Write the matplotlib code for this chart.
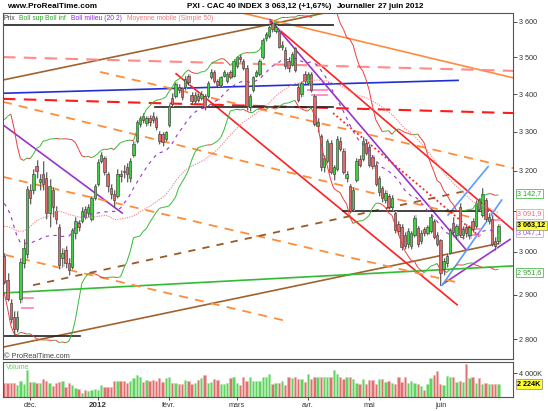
import numpy as np
import pandas as pd
import matplotlib
matplotlib.use("Agg")
import matplotlib.pyplot as plt
from matplotlib.collections import LineCollection
from matplotlib.ticker import NullLocator
from matplotlib.transforms import blended_transform_factory

plt.rcParams['font.family'] = ['Liberation Sans', 'DejaVu Sans']

W, H = 548, 411

# ── données : CAC 40 journalier, 21 nov 2011 -> 27 juin 2012 ──────────
# clôtures avant la fenêtre visible (pour Bollinger 20 et MM50)
pre_close = [3095, 2976, 2860, 2915, 2962, 3041, 3073, 2964, 3001, 2955,
             2796, 2810, 2860, 3010, 2970, 2985, 2982, 2880, 2850, 2935,
             3075, 3095, 3155, 3125, 3195, 3150, 3175, 3110, 3125, 3120,
             3060, 3165, 3175, 3140, 3180, 3370, 3350, 3243, 3075, 3115,
             3140, 3125, 3110, 3150, 3035, 3075, 3135, 3100, 3070, 3030,
             2985, 2995]

opens = [2990, 2935, 2880, 2850, 2822, 2890, 2975, 2995, 3152, 3150,
         3212, 3170, 3190, 3180, 3095, 3150, 3100, 3060, 2985, 3005,
         2975, 2965, 3045, 3070, 3075, 3105, 3095, 3080, 3130, 3165,
         3225, 3232, 3190, 3155, 3140, 3135, 3192, 3200, 3210, 3180,
         3240, 3275, 3320, 3340, 3322, 3335, 3340, 3335, 3295, 3295,
         3280, 3318, 3390, 3395, 3420, 3415, 3418, 3448, 3398, 3382,
         3395, 3390, 3395, 3395, 3445, 3460, 3435, 3425, 3450, 3435,
         3460, 3450, 3475, 3500, 3490, 3470, 3365, 3410, 3450, 3455,
         3500, 3555, 3560, 3597, 3575, 3575, 3530, 3520, 3490, 3480,
         3525, 3420, 3400, 3455, 3430, 3455, 3395, 3315, 3290, 3210,
         3225, 3270, 3190, 3205, 3275, 3250, 3180, 3160, 3105, 3175,
         3230, 3230, 3270, 3260, 3235, 3215, 3145, 3155, 3125, 3135,
         3108, 3095, 3068, 3060, 3040, 3018, 3015, 3040, 3058, 3025,
         3055, 3045, 3050, 3075, 3040, 3028, 2960, 2975, 2998, 3070,
         3040, 3110, 3040, 3060, 3040, 3075, 3062, 3125, 3090, 3125,
         3075, 3080, 3025, 3025]

highs = [2998, 2950, 2890, 2862, 2862, 2985, 3030, 3160, 3165, 3205,
         3228, 3190, 3225, 3195, 3178, 3158, 3112, 3066, 3010, 3015,
         2985, 3058, 3085, 3078, 3110, 3112, 3115, 3135, 3165, 3230,
         3248, 3238, 3196, 3165, 3152, 3205, 3202, 3215, 3218, 3232,
         3275, 3330, 3342, 3348, 3340, 3345, 3352, 3342, 3302, 3300,
         3302, 3372, 3402, 3432, 3428, 3420, 3448, 3455, 3405, 3405,
         3402, 3408, 3400, 3435, 3468, 3465, 3442, 3450, 3465, 3460,
         3466, 3495, 3505, 3510, 3495, 3478, 3400, 3450, 3466, 3495,
         3555, 3572, 3590, 3600, 3592, 3580, 3545, 3528, 3500, 3515,
         3530, 3430, 3435, 3462, 3460, 3460, 3400, 3335, 3295, 3240,
         3282, 3278, 3215, 3290, 3285, 3258, 3198, 3165, 3158, 3232,
         3240, 3285, 3280, 3268, 3240, 3222, 3185, 3160, 3150, 3140,
         3138, 3100, 3075, 3068, 3048, 3058, 3050, 3090, 3062, 3052,
         3060, 3065, 3092, 3080, 3048, 3032, 2985, 2998, 3058, 3085,
         3068, 3118, 3062, 3068, 3065, 3082, 3125, 3132, 3155, 3130,
         3095, 3088, 3035, 3068]

lows = [2925, 2885, 2835, 2808, 2815, 2880, 2962, 2985, 3115, 3140,
        3180, 3150, 3150, 3080, 3060, 3085, 3068, 2960, 2965, 2962,
        2945, 2960, 3030, 3050, 3070, 3080, 3085, 3075, 3125, 3160,
        3218, 3188, 3145, 3128, 3108, 3130, 3172, 3180, 3172, 3170,
        3235, 3270, 3312, 3322, 3315, 3315, 3322, 3305, 3268, 3262,
        3275, 3312, 3365, 3390, 3402, 3385, 3410, 3425, 3372, 3375,
        3378, 3385, 3358, 3390, 3440, 3430, 3418, 3420, 3445, 3430,
        3440, 3445, 3470, 3488, 3465, 3358, 3355, 3405, 3445, 3450,
        3495, 3545, 3555, 3570, 3568, 3525, 3522, 3468, 3460, 3475,
        3460, 3378, 3392, 3428, 3425, 3405, 3315, 3300, 3200, 3195,
        3220, 3190, 3175, 3200, 3250, 3190, 3170, 3095, 3098, 3170,
        3210, 3225, 3240, 3210, 3205, 3160, 3135, 3122, 3118, 3105,
        3100, 3045, 3040, 3005, 3008, 3010, 3008, 3035, 3012, 3018,
        3038, 3040, 3045, 3030, 3015, 2922, 2945, 2965, 2995, 3040,
        3030, 3035, 3030, 3035, 3030, 3048, 3058, 3100, 3085, 3075,
        3068, 3015, 3005, 3018]

closes = [2930, 2890, 2845, 2822, 2850, 2976, 3010, 3154, 3130, 3190,
          3200, 3178, 3165, 3095, 3160, 3110, 3080, 2970, 2998, 2975,
          2958, 3052, 3075, 3060, 3100, 3085, 3110, 3130, 3160, 3222,
          3240, 3195, 3160, 3140, 3125, 3190, 3185, 3195, 3190, 3225,
          3268, 3325, 3335, 3330, 3335, 3325, 3330, 3312, 3275, 3272,
          3298, 3368, 3372, 3428, 3410, 3392, 3440, 3432, 3380, 3398,
          3385, 3400, 3365, 3430, 3460, 3435, 3425, 3445, 3460, 3455,
          3445, 3490, 3500, 3495, 3470, 3368, 3395, 3445, 3460, 3490,
          3550, 3565, 3585, 3580, 3585, 3530, 3535, 3475, 3470, 3510,
          3465, 3385, 3430, 3435, 3455, 3410, 3320, 3325, 3210, 3232,
          3275, 3195, 3210, 3280, 3255, 3195, 3190, 3100, 3150, 3225,
          3215, 3275, 3245, 3215, 3212, 3165, 3180, 3130, 3143, 3110,
          3130, 3052, 3050, 3012, 3015, 3050, 3045, 3082, 3020, 3045,
          3045, 3060, 3085, 3035, 3020, 2950, 2978, 2990, 3052, 3048,
          3062, 3040, 3055, 3045, 3060, 3055, 3118, 3105, 3140, 3080,
          3085, 3020, 3013, 3063.12]

# volumes en milliers de titres
volumes = [2330, 2330, 2440, 2330, 2050, 2770, 2220, 4550, 2600, 2600,
           2330, 2440, 3000, 2770, 2330, 1880, 2330, 2600, 2770, 1770,
           2330, 2050, 1500, 1330, 770, 1220, 1110, 1220, 1330, 1220,
           2050, 1770, 1770, 1770, 2770, 2770, 2770, 2770, 2330, 2770,
           3160, 3720, 3440, 2600, 2880, 2770, 2880, 2770, 3160, 2600,
           3160, 3440, 2330, 2330,
           2220, 2220, 2880, 2770, 2220, 2440, 2880, 3160, 3720, 2440,
           2600, 3000, 2880, 2220, 2220, 2440, 3160, 3330, 2440, 2050,
           3440, 2770, 3330, 2770, 2770, 2770, 3440, 3330, 3990, 2220,
           2440, 2440, 2770, 2050, 3330, 3160, 3330, 3000, 3000, 2600,
           3880, 3000, 3330, 3330, 3440, 3440, 3440, 3330, 4550, 3990,
           3330, 3000, 3440, 3330, 3000, 2440,
           2220, 3000, 2220, 2880, 2880, 2220, 3000, 3000, 2600, 2770,
           2440, 2220, 3330, 2600, 3330, 2440, 2770, 2440, 2220, 1880,
           1220, 2220, 3160, 3720, 4440, 2220, 2050, 3550, 3440, 3330,
           2600, 2770, 2600, 5550, 3160, 3330, 2440, 3160, 2220, 2330,
           2220, 2220, 2220, 2224]

month_pos = [8, 29, 51, 72, 94, 113, 135]
month_labels = ['déc.', '2012', 'févr.', 'mars', 'avr.', 'mai', 'juin']
price_ticks = [2800, 2900, 3000, 3100, 3200, 3300, 3400, 3500, 3600]

# tracés manuels : (barre, cours) début -> fin
solid_lines = [
    ('#a0622d', (-0.4, 3438), (102.5, 3632)),    # canal haussier haut
    ('#a0622d', (-0.4, 2782), (153.5, 3021)),    # canal haussier bas
    ('#1f2fd8', (-0.4, 3402), (140.5, 3437)),    # bleu
    ('#ff8c3a', (72.1, 3629), (157.5, 3444)),    # orange
    ('#ff2020', (82.3, 3600), (157.5, 3053)),    # canal baissier haut
    ('#ff2020', (53.2, 3455), (140.2, 2877)),    # canal baissier bas
    ('#9933cc', (82.3, 3606), (143.0, 3005)),
    ('#9933cc', (-0.4, 3318), (36.5, 3094)),
    ('#9933cc', (135.25, 2922), (156.6, 3030)),
    ('#5b9bff', (135.55, 2922), (154.0, 3126)),
    ('#5b9bff', (137.4, 3089), (149.8, 3210)),
    ('#33bb33', (-0.4, 2904), (157.5, 2967)),
]
orange_dashed = [
    ((29.67, 3460), (157.5, 3206)),
    ((-0.4, 3379), (144.2, 3084)),
    ((-0.4, 3184), (141.1, 2927)),
    ((0.26, 2993), (86.3, 2842)),
]
red_dashed = [('#ff8a8a', (-0.4, 3501), (157.5, 3463)),
              ('#ff1a1a', (-0.4, 3387), (157.5, 3349))]
brown_dashed = [((8.9, 2922), (144.2, 3151))]
red_dotted = [((101.8, 3349), (147.3, 3036))]
black_levels = [(-0.4, 101.8, 3591), (46.7, 101.8, 3365),
                (104.9, 149.8, 3099), (-0.4, 23.5, 2807)]
gap_marks = [(5.5, 8.9, 2893), (5.5, 8.9, 2870), (94.1, 100.0, 3411),
             (95.3, 100.0, 3397), (141.1, 147.3, 3055), (143.6, 147.3, 3041),
             (149.8, 153.5, 3077)]

right_labels = [('3 142,7', 3142.7, '#2e9e2e', 'white', '#55bb55'),
                ('3 091,9', 3091.9, '#ee6f6f', 'white', '#f0a0a0'),
                ('3 047,1', 3047.1, '#9a55dd', 'white', '#c9a6ee'),
                ('3 063,12', 3063.12, 'black', '#ffff33', '#999999'),
                ('2 951,6', 2951.6, '#2e9e2e', 'white', '#55bb55')]

# ── indicateurs ────────────────────────────────────────────────────────
n0 = len(pre_close)
c_all = pd.Series(pre_close + closes, dtype=float)
mid = c_all.rolling(20).mean().to_numpy()[n0:]
sd = c_all.rolling(20).std(ddof=0).to_numpy()[n0:]
bb_up = mid + 2 * sd
bb_dn = mid - 2 * sd
sma50 = c_all.rolling(50).mean().to_numpy()[n0:]

o = np.array(opens, float)
h = np.array(highs, float)
l = np.array(lows, float)
c = np.array(closes, float)
x = np.arange(len(c))
up = c >= o

# ── figure ─────────────────────────────────────────────────────────────
fig = plt.figure(figsize=(W / 100, H / 100), dpi=100)


def fx(px):
    return px / W


def fy(py):
    return 1 - py / H


ax = fig.add_axes([fx(3), fy(359), fx(513) - fx(3), fy(13.5) - fy(359)])
axv = fig.add_axes([fx(3), fy(397.3), fx(513) - fx(3), fy(362) - fy(397.3)])

ax.set_yscale('log')
ax.set_ylim(2756, 3624)
ax.set_xlim(-0.4, 157.5)

# lignes de tendance
for col, p0, p1 in solid_lines:
    ax.plot([p0[0], p1[0]], [p0[1], p1[1]], color=col, lw=1.2, zorder=2)
for p0, p1 in orange_dashed:
    ax.plot([p0[0], p1[0]], [p0[1], p1[1]], color='#ff8c3a', lw=1.3,
            dashes=(5, 4), zorder=2)
for col, p0, p1 in red_dashed:
    ax.plot([p0[0], p1[0]], [p0[1], p1[1]], color=col, lw=1.5,
            dashes=(6, 4), zorder=2)
for p0, p1 in brown_dashed:
    ax.plot([p0[0], p1[0]], [p0[1], p1[1]], color='#9a5a25', lw=1.3,
            dashes=(4, 4), zorder=2)
for p0, p1 in red_dotted:
    ax.plot([p0[0], p1[0]], [p0[1], p1[1]], color='#ff2020', lw=1.3,
            linestyle=(0, (1, 1.5)), zorder=2)
for a, b, lvl in black_levels:
    ax.plot([a, b], [lvl, lvl], color='#222222', lw=1.2, zorder=2.2)
for a, b, lvl in gap_marks:
    ax.plot([a, b], [lvl, lvl], color='#ff88bb', lw=1.3, zorder=2.3)

# bougies
ax.vlines(x + 0.35, l, h, color='#c8c8c8', lw=1.2, zorder=2.6)
ax.vlines(x, l, h, color='#333333', lw=0.5, zorder=3)
body_lo = np.minimum(o, c)
body_h = np.maximum(np.abs(c - o), 1.5)
ax.bar(x, body_h, bottom=body_lo, width=0.74,
       color=np.where(up, '#3fd13f', '#e06a6a'),
       edgecolor='#333333', linewidth=0.4, zorder=3.2)


# Bollinger colorées selon la pente
def slope_line(y):
    segs, cols = [], []
    for i in range(len(y) - 1):
        if np.isnan(y[i]) or np.isnan(y[i + 1]):
            continue
        segs.append([(x[i], y[i]), (x[i + 1], y[i + 1])])
        cols.append('#33bb33' if y[i + 1] >= y[i] else '#f03a3a')
    ax.add_collection(LineCollection(segs, colors=cols, linewidths=0.7,
                                     zorder=4))


slope_line(bb_up)
slope_line(bb_dn)
ax.plot(x, mid, color='#9933cc', lw=0.8, dashes=(3, 4), zorder=4)
ax.plot(x, sma50, color='#f07f7f', lw=0.8, linestyle=(0, (1, 1.2)), zorder=4)

# axes
for sp in ax.spines.values():
    sp.set_color('#555555')
    sp.set_linewidth(0.8)
ax.set_xticks([])
ax.yaxis.set_minor_locator(NullLocator())
ax.set_yticks(price_ticks)
# le libellé 3 100 est caché par l'étiquette de la MM50
ax.set_yticklabels(['' if v == 3100 else f"{v:,}".replace(',', ' ')
                    for v in price_ticks])
ax.tick_params(axis='y', which='both', left=False, right=True,
               labelleft=False, labelright=True, direction='out',
               length=3, width=0.6, colors='#333333', labelsize=5.2, pad=1.5)

# bandeau légende
ax.plot([-0.4, 101.8], [3591, 3591], color='#444444', lw=1.3, zorder=2.2)
leg_y = fy(18.7)
for txt, px, col in [('Prix', 4, '#444444'),
                     ('Boll sup Boll inf', 19, '#2ea52e'),
                     ('Boll milieu (20 2)', 71, '#8a2be2'),
                     ('Moyenne mobile (Simple 50)', 127, '#ef7c7c')]:
    fig.text(fx(px), leg_y, txt, color=col, fontsize=4.9, va='center')

fig.text(fx(7), fy(6), 'www.ProRealTime.com', fontsize=5.9,
         fontweight='bold', va='center')
for txt, px in [('PXI - CAC 40 INDEX', 187), ('3 063,12 (+1,67%)', 265),
                ('Journalier', 337), ('27 juin 2012', 378)]:
    fig.text(fx(px), fy(6), txt, fontsize=5.8, fontweight='bold', va='center')
fig.text(fx(3.5), fy(356), '© ProRealTime.com', fontsize=5.3,
         color='#444444', va='center')

# étiquettes de droite
tr = blended_transform_factory(ax.transAxes, ax.transData)
for txt, val, tc, fc, ec in right_labels:
    bold = fc != 'white'
    ax.text(1.008, val, txt, transform=tr, fontsize=5.2, color=tc,
            fontweight='bold' if bold else 'normal', va='center', ha='left',
            clip_on=False, zorder=6,
            bbox=dict(boxstyle='square,pad=0.18', fc=fc, ec=ec, lw=0.6))

# ── volume ─────────────────────────────────────────────────────────────
vcol = np.where(up, '#5fd35f', '#e07070')
vedge = np.where(up, '#a8eaa8', '#f2b2b2')
axv.bar(x, volumes, width=0.72, color=vcol, edgecolor=vedge, linewidth=0.4)
axv.set_xlim(-0.4, 157.5)
axv.set_ylim(0, 5930)
for sp in axv.spines.values():
    sp.set_color('#555555')
    sp.set_linewidth(0.8)
axv.set_yticks([4000])
axv.set_yticklabels(['4 000K'])
axv.tick_params(axis='y', left=False, right=True, labelleft=False,
                labelright=True, direction='out', length=3, width=0.6,
                colors='#333333', labelsize=5.2, pad=1.5)
axv.set_xticks(month_pos)
axv.set_xticklabels(month_labels)
axv.tick_params(axis='x', direction='out', length=2.5, width=0.6,
                colors='#333333', labelsize=5.2, pad=1.2)
for lab in axv.get_xticklabels():
    if lab.get_text() == '2012':
        lab.set_fontweight('bold')
        lab.set_fontsize(5.8)
axv.text(0.005, 0.85, 'Volume', transform=axv.transAxes, fontsize=5,
         color='#66cc66', va='center')
trv = blended_transform_factory(axv.transAxes, axv.transData)
axv.text(1.008, volumes[-1], '2 224K', transform=trv, fontsize=5.2,
         fontweight='bold', va='center', ha='left', clip_on=False, zorder=6,
         bbox=dict(boxstyle='square,pad=0.18', fc='#ffff33', ec='#999999',
                   lw=0.6))

fig.savefig('out.png', dpi=100)
